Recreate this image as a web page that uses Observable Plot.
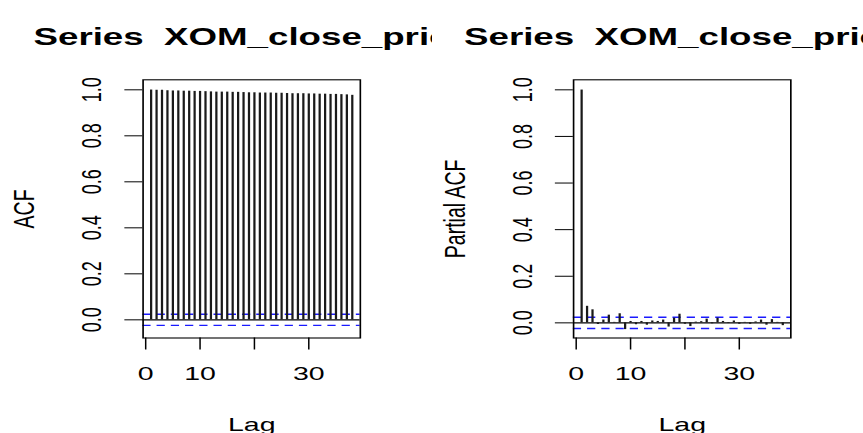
<!DOCTYPE html>
<html><head><meta charset="utf-8">
<script src="https://cdn.jsdelivr.net/npm/d3@7"></script>
<script src="https://cdn.jsdelivr.net/npm/@observablehq/plot@0.6"></script>
<style>
html,body{margin:0;padding:0;background:#fff;}
#wrap{display:flex;width:863px;height:433px;overflow:hidden;background:#fff;}
#wrap svg{overflow:hidden;display:block;flex:none;}
</style></head>
<body><div id="wrap"></div>
<script>
// ---- data ----
const lags = [1,2,3,4,5,6,7,8,9,10,11,12,13,14,15,16,17,18,19,20,21,22,23,24,25,26,27,28,29,30,31,32,33,34,35,36,37,38];
const acfValues = [0.999,0.998,0.998,0.996,0.995,0.995,0.994,0.994,0.993,0.993,0.992,0.991,0.990,0.990,0.990,0.989,0.989,0.988,0.987,0.987,0.986,0.986,0.986,0.985,0.985,0.984,0.983,0.983,0.983,0.982,0.982,0.981,0.981,0.980,0.980,0.979,0.978,0.976];
const pacfValues = [0.999,0.071,0.056,-0.007,0.012,0.033,0.002,0.039,-0.029,0.006,-0.008,0.006,-0.010,0.008,0.006,0.012,-0.018,0.020,0.037,-0.006,-0.016,0.003,0.005,0.016,-0.004,0.020,0.006,-0.003,0.008,-0.006,0.002,-0.006,0.004,0.012,-0.010,0.014,0.002,-0.012];
const confLimit = 0.024;
const xTicks = [0,10,20,30];
const xTickLabels = ["0","10","","30"];
const yTicks = [0,0.2,0.4,0.6,0.8,1.0];
const yTickLabels = ["0.0","0.2","0.4","0.6","0.8","1.0"];
const panelTitles = ["Series  XOM_close_price","Series  XOM_close_price"];
const yAxisLabels = ["ACF","Partial ACF"];
const xAxisLabel = "Lag";

// ---- layout (native units, stretched horizontally afterwards) ----
const NW = 288, H = 433, SCREEN_W = 431.5;
const FONT = "'Liberation Sans', Arial, Helvetica, sans-serif";

function panel(values, title, ylab, opts) {
  const data = lags.map((l, i) => ({lag: l, v: values[i]}));
  const mt = 79.3, mb = 95.5;
  const svg = Plot.plot({
    width: NW, height: H,
    marginLeft: opts.ml, marginRight: opts.mr, marginTop: mt, marginBottom: mb,
    style: {fontFamily: FONT, fontSize: "18px", color: "#000", background: "#fff", overflow: "hidden"},
    x: {domain: [-0.48, 39.48]},
    y: {domain: opts.yDomain},
    marks: [
      Plot.ruleY([0], {stroke: "#000", strokeWidth: 1.1}),
      Plot.ruleY([confLimit, -confLimit], {stroke: "#1a1aff", strokeWidth: 1.4, strokeDasharray: "5.5,4"}),
      Plot.ruleX(data, {x: "lag", y1: 0, y2: "v", stroke: "#1a1a1a", strokeWidth: 1.5}),
      Plot.frame({stroke: "#000", strokeWidth: 1.1}),
      Plot.axisX(xTicks, {tickFormat: (d, i) => xTickLabels[i], tickSize: 12, tickPadding: 17, fontSize: 19, label: null, stroke: "#000"}),
      Plot.axisY(yTicks, {tickFormat: (d, i) => yTickLabels[i], tickSize: 12, tickPadding: 16, tickRotate: -90, textAnchor: "middle", lineAnchor: "bottom", fontSize: 18, label: null, stroke: "#000"}),
      Plot.text([title], {frameAnchor: "top", dy: 44 - mt, lineAnchor: "bottom", fontSize: 24.5, fontWeight: "bold", fill: "#000"}),
      Plot.text([xAxisLabel], {frameAnchor: "bottom", dy: 430 - (H - mb), lineAnchor: "bottom", fontSize: 19, fill: "#000"}),
      Plot.text([ylab], {frameAnchor: "left", dx: opts.ylabX - opts.ml, rotate: -90, lineAnchor: "middle", textAnchor: "middle", fontSize: 19.5, fill: "#000"})
    ]
  });
  svg.setAttribute("width", SCREEN_W);
  svg.setAttribute("height", H);
  svg.setAttribute("preserveAspectRatio", "none");
  svg.style.width = SCREEN_W + "px";
  svg.style.height = H + "px";
  svg.style.maxWidth = "none";
  return svg;
}

const wrap = document.getElementById("wrap");
wrap.appendChild(panel(acfValues, panelTitles[0], yAxisLabels[0], {ml: 95, mr: 48, yDomain: [-0.079, 1.0435], ylabX: 16}));
wrap.appendChild(panel(pacfValues, panelTitles[1], yAxisLabels[1], {ml: 94, mr: 49, yDomain: [-0.065, 1.043], ylabX: 15}));
</script>
</body></html>
